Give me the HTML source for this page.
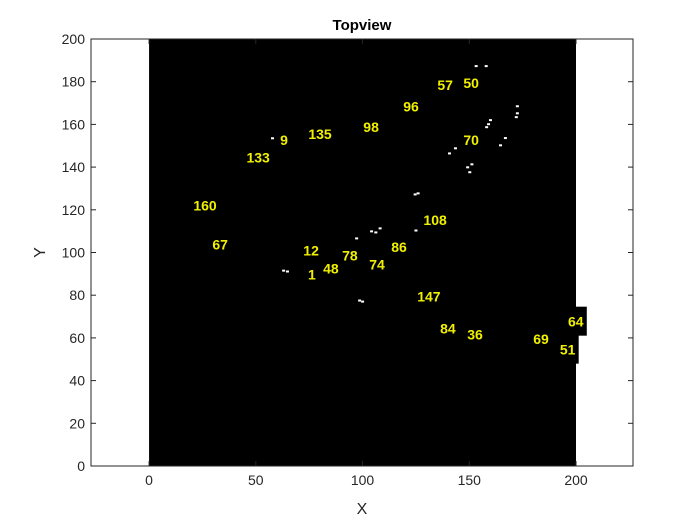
<!DOCTYPE html>
<html><head><meta charset="utf-8"><style>
body{margin:0;background:#fff;width:700px;height:525px;overflow:hidden;font-family:"Liberation Sans",sans-serif}
</style></head><body>
<svg id="c" width="700" height="525" xmlns="http://www.w3.org/2000/svg"></svg>
<script>
const labelText=["9","133","135","98","96","57","50","70","160","67","108","86","12","78","74","1","48","147","84","36","69","64","51"];
const labelX=[63.2,51.1,80.1,104.0,122.7,138.7,150.9,150.9,26.2,33.3,134.0,117.1,75.9,94.1,106.8,76.3,85.2,131.1,140.0,152.7,183.6,199.9,196.1];
const labelY=[152.6,144.6,155.4,158.7,168.5,178.4,179.3,152.6,122.1,103.8,115.3,102.6,100.9,98.6,94.4,89.7,92.5,79.3,64.3,61.5,59.6,67.6,54.5];
const speckX=[57.6,62.8,64.6,98.4,99.8,97.0,104.0,108.0,106.0,124.8,125.8,124.4,140.5,143.3,149.0,150.0,151.0,158.8,159.7,157.9,172.3,172.3,171.8,166.7,164.4,153.0,157.7];
const speckY=[153.5,91.5,91.1,77.5,77.0,106.6,109.9,111.3,109.4,110.3,127.7,127.2,146.4,148.8,139.9,137.6,141.3,160.1,162.0,158.7,168.5,165.2,163.4,153.6,150.2,187.3,187.3];
const xTicks=[0,50,100,150,200];
const yTicks=[0,20,40,60,80,100,120,140,160,180,200];
const L=91,R=633,T=39,B=466;
const xMin=-27.2,xMax=226.7,yMin=0,yMax=200;
const sx=v=>L+(v-xMin)/(xMax-xMin)*(R-L);
const sy=v=>B-(v-yMin)/(yMax-yMin)*(B-T);
const svg=document.getElementById('c');
const NS='http://www.w3.org/2000/svg';
function mk(t,a,p){const e=document.createElementNS(NS,t);for(const k in a)e.setAttribute(k,a[k]);(p||svg).appendChild(e);return e;}
let bg=mk('rect',{x:L,y:T,width:R-L,height:B-T,fill:'#fff'});


let img=mk('rect',{x:sx(0),y:sy(200),width:sx(200)-sx(0),height:sy(0)-sy(200),fill:'#000'});


for(let i=0;i<speckX.length;i++){
 let s=mk('rect',{x:sx(speckX[i])-1,y:sy(speckY[i])-1,width:3,height:2,fill:'#fff'});
 
 
}
for(let i=0;i<labelText.length;i++){
 const cx=sx(labelX[i]),cy=sy(labelY[i]);
 const w=labelText[i].length*8+6;
 let b=mk('rect',{x:cx-w/2,y:cy-15,width:w,height:29,fill:'#000'});
 
 
 let t=mk('text',{x:cx,y:cy+5,'text-anchor':'middle','font-size':14,'font-weight':'bold',fill:'#f0f000'});
 t.textContent=labelText[i];
 
 
}
let ax=mk('rect',{x:L,y:T,width:R-L,height:B-T,fill:'none',stroke:'#262626','stroke-width':1});


xTicks.forEach(v=>{
 const x=sx(v);
 mk('line',{x1:x,x2:x,y1:B,y2:B-5,stroke:'#262626'});mk('line',{x1:x,x2:x,y1:T,y2:T+5,stroke:'#262626'});
 let t=mk('text',{x:x,y:B+19,'text-anchor':'middle','font-size':14,fill:'#262626'});t.textContent=v;
 
 
});
yTicks.forEach(v=>{
 const y=sy(v);
 mk('line',{x1:L,x2:L+5,y1:y,y2:y,stroke:'#262626'});mk('line',{x1:R,x2:R-5,y1:y,y2:y,stroke:'#262626'});
 let t=mk('text',{x:L-6,y:y+5,'text-anchor':'end','font-size':14,fill:'#262626'});t.textContent=v;
 
 
});
let ti=mk('text',{x:(L+R)/2,y:30,'text-anchor':'middle','font-size':15,'font-weight':'bold',fill:'#000'});ti.textContent='Topview';


let xl=mk('text',{x:(L+R)/2,y:514,'text-anchor':'middle','font-size':16,fill:'#262626'});xl.textContent='X';


let yl=mk('text',{x:45,y:(T+B)/2,'text-anchor':'middle','font-size':16,fill:'#262626',transform:`rotate(-90 45 ${(T+B)/2})`});yl.textContent='Y';


</script>
</body></html>
